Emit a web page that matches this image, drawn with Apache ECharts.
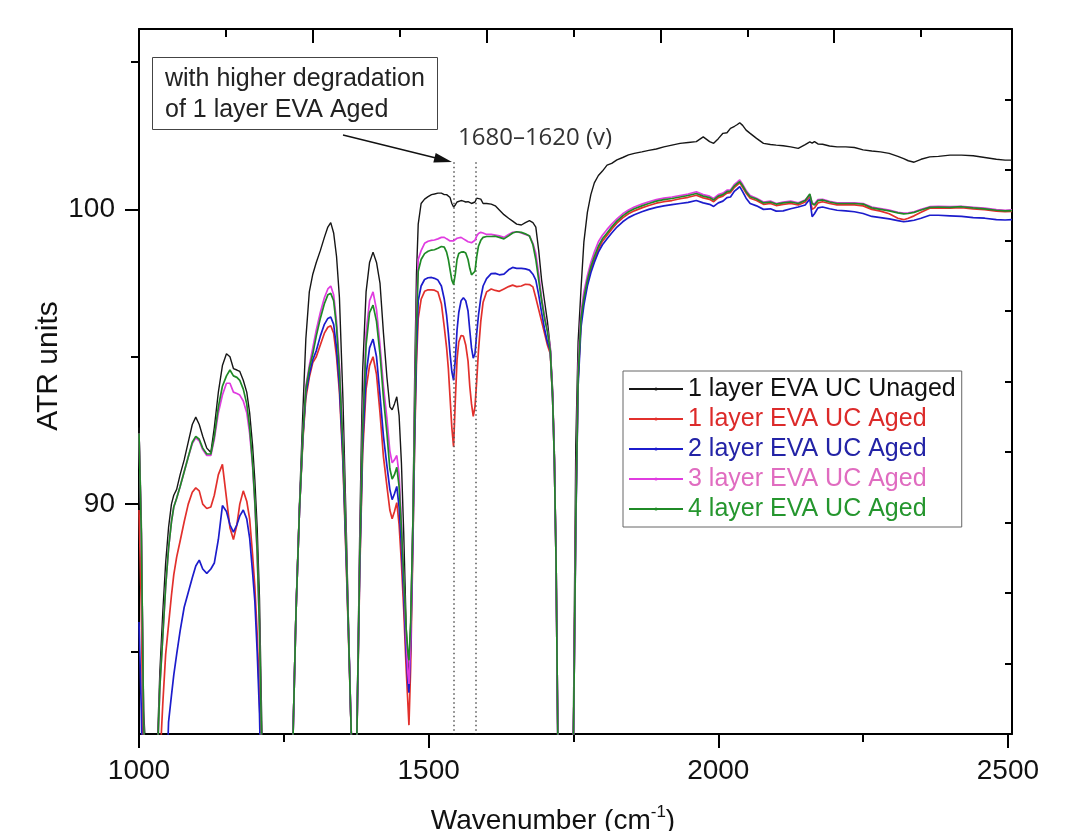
<!doctype html>
<html>
<head>
<meta charset="utf-8">
<title>ATR spectra EVA UC</title>
<script src="https://cdn.jsdelivr.net/npm/echarts@6/dist/echarts.min.js"></script>
<style>
  html, body { margin: 0; padding: 0; background: #fff; }
  #main { width: 1090px; height: 831px; }
</style>
</head>
<body>
<div id="main"></div>
<script>
// wavenumber grid (cm-1), one value per point of every curve
var wavenumber = [
  1000, 1004, 1008, 1026, 1032, 1036, 1041, 1046, 1051, 1056, 1060, 1065, 1071, 1078, 1085, 1092, 1098, 1104, 1110, 1117, 1124, 1130, 1137, 1144, 1151, 1157, 1163, 1169, 1174, 1180, 1186, 1191, 1196, 1200, 1204, 1208, 1212, 1218,
  1262, 1266, 1271, 1277, 1283, 1288, 1294, 1300, 1306, 1313, 1320, 1326, 1331, 1336, 1341, 1346, 1352, 1358, 1363, 1367, 1372,
  1376, 1381, 1386, 1392, 1398, 1404, 1410, 1416, 1422, 1428, 1433, 1437, 1441, 1445, 1449, 1453, 1457, 1461, 1464, 1466, 1469, 1473, 1476, 1479,
  1482, 1487, 1493, 1499, 1505, 1510, 1516, 1522, 1527, 1531, 1534, 1537, 1540, 1543, 1546, 1549, 1552, 1556, 1560, 1564, 1568, 1571, 1574, 1577, 1580, 1583, 1586, 1590, 1594, 1600, 1608, 1615, 1622, 1630, 1638, 1645, 1652, 1660, 1667, 1674, 1680, 1685, 1690, 1695, 1700, 1705, 1710, 1714, 1717, 1720, 1723, 1728,
  1745, 1750, 1754, 1758, 1763, 1768, 1774, 1780, 1786, 1793, 1800, 1808, 1816, 1825, 1835, 1845, 1855, 1868, 1880, 1893, 1906, 1920, 1934, 1948, 1962, 1974, 1985, 1992, 2000, 2008, 2015, 2021, 2028, 2033, 2037, 2042, 2048, 2055, 2066, 2078, 2090, 2100, 2112, 2125, 2138, 2150, 2158, 2162, 2166, 2172, 2180, 2192, 2205, 2220, 2235, 2250, 2265, 2280, 2295, 2310, 2320, 2328, 2338, 2350, 2365, 2380, 2400, 2420, 2440, 2460, 2480, 2495, 2507
];

var unaged1 = [
  92.6, 89.5, 83.0, 76, 82.0, 84.3, 86.3, 88.0, 89.2, 90.0, 90.3, 90.5, 91.0, 91.5, 92.1, 92.7, 92.95, 92.7, 92.3, 91.9, 91.75, 92.6, 93.8, 94.7, 95.1, 95.0, 94.6, 94.55, 94.5, 94.2, 93.8, 93.1, 92.0, 90.8, 89.2, 86.8, 82.5, 76,
  78, 82.4, 86.5, 90.0, 93.2, 95.6, 97.2, 97.8, 98.2, 98.6, 99.05, 99.4, 99.55, 99.2, 98.4, 97.0, 93.6, 89.0, 84.8, 81.5, 76,
  82.2, 89.0, 94.5, 97.2, 98.2, 98.55, 98.2, 97.5, 95.8, 94.3, 93.3, 93.2, 93.4, 93.64, 93.0, 91.4, 89.0, 86.0, 84.5, 84.2, 86.0, 89.8, 94.5, 97.8,
  99.5, 100.2, 100.35, 100.43, 100.5, 100.52, 100.55, 100.55, 100.5, 100.5, 100.48, 100.4, 100.2, 100.08, 100.15, 100.25, 100.3, 100.3, 100.28, 100.25, 100.26, 100.25, 100.2, 100.2, 100.25, 100.38, 100.43, 100.35, 100.2, 100.2, 100.18, 100.12, 99.98, 99.82, 99.7, 99.6, 99.5, 99.47, 99.55, 99.62, 99.55, 99.4, 98.6, 97.6, 96.9, 96.2, 95.3, 93.9, 91.8, 88.0, 82.0, 76,
  76, 83.0, 92.0, 95.5, 97.3, 98.9, 99.9, 100.5, 100.9, 101.15, 101.3, 101.5, 101.56, 101.68, 101.76, 101.85, 101.9, 101.95, 102.0, 102.05, 102.12, 102.18, 102.24, 102.27, 102.3, 102.46, 102.3, 102.24, 102.4, 102.58, 102.6, 102.75, 102.82, 102.88, 102.94, 102.85, 102.69, 102.58, 102.41, 102.24, 102.2, 102.18, 102.16, 102.12, 102.07, 102.2, 102.29, 102.25, 102.3, 102.22, 102.21, 102.15, 102.12, 102.12, 102.1, 102.02, 101.98, 101.95, 101.9, 101.8, 101.72, 101.65, 101.6, 101.7, 101.78, 101.8, 101.84, 101.84, 101.82, 101.76, 101.7, 101.67, 101.67
];

var aged1 = [
  89.8, 86.5, 80, 76, 77, 81.2, 83.2, 84.9, 85.9, 86.9, 87.6, 88.2, 88.75, 89.4, 90.0, 90.4, 90.55, 90.45, 90.0, 89.85, 89.9, 90.3, 91.0, 91.35, 90.2, 89.2, 88.8, 89.3, 90.0, 90.45, 90.1, 89.5, 88.3, 87.2, 85.6, 83.4, 80, 76,
  78, 82.2, 86.3, 89.8, 92.2, 93.6, 94.3, 94.8, 95.0, 95.4, 95.8, 96.0, 96.05, 95.8, 95.0, 93.8, 91.4, 87.8, 84.6, 81.8, 76,
  82.0, 87.6, 91.7, 93.9, 94.7, 95.0, 94.4, 93.1, 91.6, 90.6, 89.8, 89.5, 89.75, 90.05, 89.3, 88.0, 86.4, 84.5, 83.3, 82.5, 84.5, 88.8, 92.2, 94.8,
  96.3, 96.95, 97.22, 97.27, 97.27, 97.26, 97.2, 96.8, 96.0, 95.3, 94.6, 93.6, 92.6, 91.95, 93.5, 94.9, 95.5, 95.72, 95.7, 95.4, 94.85, 94.0, 93.4, 92.98, 93.3, 94.2, 95.2, 96.2, 96.85, 97.2, 97.3, 97.25, 97.22, 97.3, 97.38, 97.43, 97.38, 97.4, 97.46, 97.45, 97.37, 97.0, 96.6, 96.2, 95.8, 95.4, 95.1, 93.6, 91.5, 88.0, 82, 76,
  76, 82.0, 89.4, 94.2, 96.2, 96.9, 97.5, 97.95, 98.3, 98.65, 98.92, 99.12, 99.33, 99.53, 99.71, 99.85, 99.95, 100.05, 100.13, 100.21, 100.26, 100.3, 100.36, 100.41, 100.48, 100.39, 100.34, 100.26, 100.4, 100.45, 100.55, 100.57, 100.75, 100.83, 100.9, 100.75, 100.55, 100.38, 100.3, 100.17, 100.2, 100.13, 100.17, 100.2, 100.15, 100.25, 100.45, 100.0, 100.05, 100.22, 100.26, 100.2, 100.15, 100.15, 100.15, 100.12, 100.0, 99.94, 99.85, 99.7, 99.65, 99.7, 99.78, 99.9, 100.04, 100.05, 100.04, 100.06, 100.02, 99.99, 99.94, 99.92, 99.93
];

var aged2 = [
  86.0, 83.0, 78, 76, 76, 76, 77, 79.5, 82.6, 83.5, 84.2, 84.9, 85.7, 86.5, 87.0, 87.5, 87.9, 88.1, 87.8, 87.65, 87.8, 88.0, 88.8, 89.95, 89.75, 89.3, 89.05, 89.3, 89.6, 89.8, 89.5, 88.85, 87.7, 86.7, 85.0, 82.9, 79, 76,
  78, 82.2, 86.3, 89.8, 92.3, 93.75, 94.4, 94.9, 95.2, 95.7, 96.1, 96.3, 96.35, 96.1, 95.3, 94.0, 91.6, 88.0, 84.7, 81.8, 76,
  82.0, 87.8, 92.0, 94.4, 95.3, 95.6, 95.0, 93.7, 92.3, 91.3, 90.5, 90.15, 90.35, 90.6, 89.9, 88.6, 86.9, 85.0, 84.0, 83.6, 85.2, 89.0, 92.5, 95.2,
  96.9, 97.4, 97.62, 97.68, 97.69, 97.66, 97.6, 97.4, 96.95, 96.4, 95.8, 95.1, 94.5, 94.2, 94.9, 95.9, 96.5, 96.9, 97.0, 96.9, 96.55, 95.9, 95.3, 94.95, 95.1, 95.8, 96.4, 97.0, 97.4, 97.65, 97.82, 97.83, 97.78, 97.8, 97.95, 98.03, 98.0, 98.0, 97.98, 97.94, 97.8, 97.6, 97.1, 96.5, 95.95, 95.5, 95.2, 93.6, 91.5, 88.0, 82, 76,
  76, 82.0, 89.2, 94.0, 96.0, 96.75, 97.4, 97.85, 98.2, 98.55, 98.8, 99.0, 99.2, 99.4, 99.58, 99.72, 99.82, 99.92, 100.0, 100.07, 100.12, 100.16, 100.2, 100.24, 100.3, 100.22, 100.17, 100.1, 100.22, 100.28, 100.4, 100.42, 100.62, 100.7, 100.77, 100.6, 100.38, 100.2, 100.12, 100.0, 100.02, 99.94, 99.95, 100.02, 100.08, 100.15, 100.35, 99.75, 99.85, 100.05, 100.08, 100.02, 99.97, 99.95, 99.92, 99.86, 99.76, 99.72, 99.68, 99.62, 99.58, 99.6, 99.63, 99.7, 99.8, 99.8, 99.78, 99.76, 99.72, 99.7, 99.65, 99.64, 99.65
];

var aged3 = [
  92.4, 89.0, 82.5, 76, 81.5, 83.8, 85.5, 87.2, 88.5, 89.4, 89.9, 90.2, 90.6, 91.1, 91.6, 92.05, 92.25, 92.15, 91.85, 91.65, 91.65, 92.2, 93.1, 93.7, 94.1, 94.1, 93.8, 93.75, 93.7, 93.5, 93.1, 92.4, 91.3, 90.0, 88.3, 85.7, 81.4, 76,
  78, 82.2, 86.3, 89.8, 92.4, 94.0, 94.7, 95.3, 95.9, 96.5, 97.0, 97.3, 97.4, 97.1, 96.2, 94.7, 92.2, 88.5, 84.8, 81.8, 76,
  82.0, 88.3, 92.8, 95.8, 96.9, 97.2, 96.6, 95.4, 94.0, 92.9, 91.8, 91.4, 91.5, 91.65, 91.0, 89.4, 87.5, 85.5, 84.3, 83.9, 85.5, 89.5, 93.5, 96.6,
  98.3, 98.6, 98.85, 98.92, 98.95, 98.96, 99.0, 99.05, 99.05, 99.0, 98.97, 98.93, 98.9, 98.93, 98.97, 99.02, 99.05, 99.05, 99.0, 98.95, 98.9, 98.88, 98.87, 98.9, 98.95, 99.1, 99.18, 99.22, 99.2, 99.15, 99.15, 99.13, 99.1, 99.05, 99.15, 99.22, 99.24, 99.2, 99.15, 99.1, 98.85, 98.5, 97.8, 97.0, 96.4, 95.9, 95.3, 93.7, 91.6, 88.0, 82, 76,
  76, 82.0, 89.8, 94.6, 96.5, 97.2, 97.75, 98.2, 98.55, 98.9, 99.12, 99.32, 99.5, 99.68, 99.85, 99.98, 100.08, 100.18, 100.26, 100.33, 100.38, 100.42, 100.47, 100.52, 100.6, 100.5, 100.45, 100.37, 100.5, 100.55, 100.65, 100.66, 100.85, 100.93, 101.0, 100.85, 100.64, 100.47, 100.38, 100.25, 100.28, 100.2, 100.25, 100.28, 100.22, 100.32, 100.5, 100.22, 100.18, 100.33, 100.34, 100.27, 100.22, 100.22, 100.22, 100.2, 100.08, 100.03, 99.98, 99.9, 99.87, 99.88, 99.92, 100.0, 100.09, 100.1, 100.09, 100.1, 100.07, 100.04, 99.99, 99.97, 99.98
];

var aged4 = [
  92.4, 89.0, 82.5, 76, 81.5, 83.8, 85.5, 87.2, 88.5, 89.4, 89.9, 90.2, 90.6, 91.1, 91.6, 92.1, 92.3, 92.2, 91.9, 91.7, 91.7, 92.3, 93.3, 94.0, 94.35, 94.55, 94.35, 94.3, 94.2, 93.9, 93.4, 92.6, 91.4, 90.1, 88.4, 85.8, 81.5, 76,
  78, 82.2, 86.3, 89.8, 92.4, 93.9, 94.6, 95.1, 95.7, 96.3, 96.8, 97.1, 97.15, 96.9, 96.0, 94.5, 92.0, 88.3, 84.7, 81.8, 76,
  82.0, 88.1, 92.5, 95.4, 96.5, 96.75, 96.2, 95.1, 93.6, 92.4, 91.2, 90.85, 91.0, 91.25, 90.6, 89.2, 87.5, 85.8, 85.0, 84.7, 86.0, 89.5, 93.0, 96.0,
  97.9, 98.3, 98.5, 98.58, 98.62, 98.63, 98.68, 98.74, 98.72, 98.55, 98.3, 97.95, 97.6, 97.45, 97.8, 98.3, 98.5, 98.55, 98.56, 98.52, 98.3, 98.0, 97.78, 97.72, 97.9, 98.4, 98.75, 98.95, 99.05, 99.08, 99.08, 99.09, 99.05, 99.0, 99.1, 99.2, 99.24, 99.22, 99.17, 99.1, 98.8, 98.3, 97.6, 96.9, 96.3, 95.85, 95.2, 93.6, 91.5, 88.0, 82, 76,
  76, 82.0, 89.5, 94.3, 96.3, 97.0, 97.6, 98.05, 98.4, 98.75, 99.0, 99.2, 99.4, 99.6, 99.78, 99.92, 100.02, 100.12, 100.2, 100.28, 100.33, 100.37, 100.42, 100.47, 100.54, 100.45, 100.4, 100.32, 100.45, 100.5, 100.6, 100.62, 100.8, 100.88, 100.94, 100.8, 100.6, 100.43, 100.35, 100.22, 100.25, 100.18, 100.22, 100.25, 100.2, 100.3, 100.52, 100.2, 100.15, 100.3, 100.32, 100.25, 100.2, 100.2, 100.2, 100.18, 100.05, 100.0, 99.95, 99.88, 99.85, 99.86, 99.9, 99.98, 100.07, 100.08, 100.07, 100.09, 100.05, 100.02, 99.97, 99.95, 99.96
];

var seriesNames = ['1 layer EVA UC Unaged', '1 layer EVA UC Aged', '2 layer EVA UC Aged', '3 layer EVA UC Aged', '4 layer EVA UC Aged'];
var seriesValues = [unaged1, aged1, aged2, aged3, aged4];
var lineColors = ['#161616', '#e2302c', '#1c1ccc', '#e03ce0', '#1f8a26'];
var labelColors = ['#111111', '#dc2a2a', '#2323a6', '#e06cc0', '#25962e'];

var xTicks = [1000, 1500, 2000, 2500];
var topTicks = [1300, 1600, 1900, 2200];
var yTicks = [90, 100];
var bandLines = [1543, 1580.6];   // dotted guides of the 1680-1620 band
var bandTop = 101.6;

var xMin = 1000, xMax = 2507;
var yMin = 82.2, yMax = 106.12;

seriesValues.forEach(function (v, i) {
  if (v.length !== wavenumber.length) console.warn(seriesNames[i], v.length, wavenumber.length);
});

var font = '"Liberation Sans", Arial, sans-serif';
var black = '#000';
var plain = function (v) { return String(v); };

var series = seriesValues.map(function (vals, i) {
  var s = {
    name: seriesNames[i],
    type: 'line',
    data: wavenumber.map(function (x, k) { return [x, vals[k]]; }),
    symbol: 'none',
    showSymbol: false,
    clip: true,
    color: lineColors[i],
    lineStyle: { color: lineColors[i], width: i === 0 ? 1.4 : 1.7 },
    z: 2 + i
  };
  if (i === 0) {
    s.markLine = {
      silent: true,
      symbol: 'none',
      animation: false,
      label: { show: false },
      lineStyle: { color: '#555', width: 1.5, type: [1.5, 3] },
      data: bandLines.map(function (x) {
        return [{ coord: [x, bandTop] }, { coord: [x, yMin] }];
      })
    };
  }
  return s;
});

var chart = echarts.init(document.getElementById('main'), null, { renderer: 'canvas' });

chart.setOption({
  animation: false,
  backgroundColor: '#fff',
  grid: { left: 139, right: 78, top: 29, bottom: 97, containLabel: false },
  xAxis: [{
    type: 'value',
    position: 'bottom',
    min: xMin, max: xMax,
    splitNumber: 3,
    axisLine: { show: true, onZero: false, lineStyle: { color: black, width: 2 } },
    axisTick: { show: true, inside: false, length: 14, customValues: xTicks, lineStyle: { color: black, width: 2 } },
    minorTick: { show: true, splitNumber: 2, length: 8, lineStyle: { color: black, width: 2 } },
    axisLabel: { customValues: xTicks, formatter: plain, margin: 23, fontSize: 28, color: '#111', fontFamily: font },
    splitLine: { show: false }
  }, {
    type: 'value',
    position: 'top',
    min: xMin, max: xMax,
    interval: 300,
    axisLine: { show: true, onZero: false, lineStyle: { color: black, width: 2 } },
    axisTick: { show: true, inside: true, length: 14, customValues: topTicks, lineStyle: { color: black, width: 2 } },
    minorTick: { show: true, splitNumber: 2, length: 8, lineStyle: { color: black, width: 2 } },
    axisLabel: { show: false },
    splitLine: { show: false }
  }],
  yAxis: [{
    type: 'value',
    position: 'left',
    min: yMin, max: yMax,
    splitNumber: 2,
    axisLine: { show: true, onZero: false, lineStyle: { color: black, width: 2 } },
    axisTick: { show: true, inside: false, length: 14, customValues: yTicks, lineStyle: { color: black, width: 2 } },
    minorTick: { show: true, splitNumber: 2, length: 8, lineStyle: { color: black, width: 2 } },
    axisLabel: { customValues: yTicks, formatter: plain, margin: 24, fontSize: 28, color: '#111', fontFamily: font },
    splitLine: { show: false }
  }, {
    type: 'value',
    position: 'right',
    min: 0, max: 10,
    interval: 1,
    axisLine: { show: true, onZero: false, lineStyle: { color: black, width: 2 } },
    axisTick: { show: true, inside: true, length: 7, lineStyle: { color: black, width: 2 } },
    axisLabel: { show: false },
    splitLine: { show: false }
  }],
  legend: {
    orient: 'vertical',
    left: 623,
    top: 371,
    itemWidth: 54,
    itemHeight: 4,
    itemGap: 4,
    padding: [5, 6, 5, 5],
    borderColor: '#666',
    borderWidth: 1,
    backgroundColor: '#fff',
    textStyle: { fontSize: 25, lineHeight: 26, fontFamily: font },
    data: seriesNames.map(function (n, i) {
      return { name: n, textStyle: { color: labelColors[i] } };
    })
  },
  graphic: [
    { type: 'rect', z: 100, shape: { x: 152.5, y: 57.5, width: 285, height: 72 },
      style: { fill: '#fff', stroke: '#444', lineWidth: 1 } },
    { type: 'text', z: 101, x: 165, y: 64,
      style: { text: 'with higher degradation\nof 1 layer EVA Aged', font: '25px ' + font, fill: '#222',
               lineHeight: 31, textVerticalAlign: 'top' } },
    { type: 'line', z: 101, shape: { x1: 343, y1: 135, x2: 440, y2: 159 },
      style: { stroke: '#111', lineWidth: 1.3 } },
    { type: 'polygon', z: 101, shape: { points: [[452, 162], [433.3, 162.6], [435.7, 152.9]] },
      style: { fill: '#111' } },
    { type: 'text', z: 101, x: 458, y: 138,
      style: { text: '1680\u20131620 (v)', font: '24px "Open Sans", sans-serif', fill: '#333', textVerticalAlign: 'middle' } },
    { type: 'text', z: 101, x: 49, y: 366, rotation: Math.PI / 2,
      style: { text: 'ATR units', font: '30px ' + font, fill: '#111', textAlign: 'center', textVerticalAlign: 'middle' } },
    { type: 'text', z: 101, x: 553, y: 821,
      style: {
        text: '{a|Wavenumber (cm}{s|-1}{a|)}',
        textAlign: 'center', textVerticalAlign: 'middle',
        rich: {
          a: { fontSize: 28, fontFamily: font, fill: '#111', lineHeight: 34 },
          s: { fontSize: 17, fontFamily: font, fill: '#111', lineHeight: 20, verticalAlign: 'top' }
        }
      } }
  ],
  series: series
});
</script>
</body>
</html>
